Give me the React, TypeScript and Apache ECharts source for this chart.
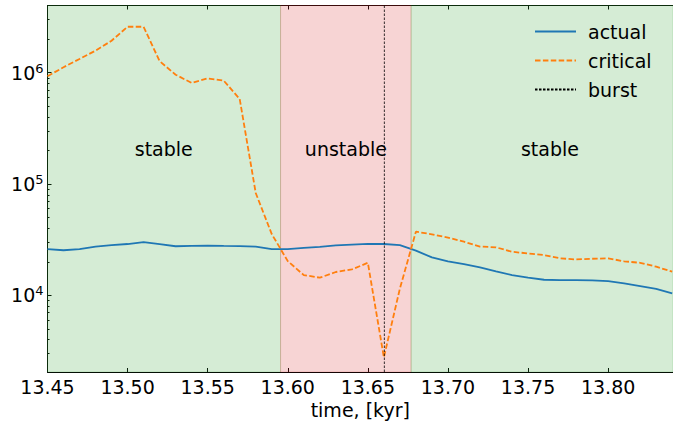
import React, { useEffect, useRef } from "react";
import * as echarts from "echarts";

const time = [
  13.45, 13.46, 13.47, 13.48, 13.49, 13.5, 13.51, 13.52, 13.53, 13.54,
  13.55, 13.56, 13.57, 13.58, 13.59, 13.6, 13.61, 13.62, 13.63, 13.64,
  13.65, 13.66, 13.67, 13.68, 13.69, 13.7, 13.71, 13.72, 13.73, 13.74,
  13.75, 13.76, 13.77, 13.78, 13.79, 13.8, 13.81, 13.82, 13.83, 13.84,
];

const actual = [
  2.6e4, 2.54e4, 2.6e4, 2.74e4, 2.82e4, 2.89e4, 3.0e4, 2.88e4, 2.76e4, 2.78e4,
  2.8e4, 2.78e4, 2.77e4, 2.74e4, 2.6e4, 2.6e4, 2.67e4, 2.73e4, 2.81e4, 2.86e4,
  2.9e4, 2.89e4, 2.82e4, 2.52e4, 2.19e4, 2.02e4, 1.91e4, 1.78e4, 1.64e4, 1.52e4,
  1.44e4, 1.38e4, 1.37e4, 1.37e4, 1.36e4, 1.34e4, 1.28e4, 1.21e4, 1.14e4, 1.04e4,
];

const critical = [
  9.3e5, 1.12e6, 1.33e6, 1.58e6, 1.94e6, 2.59e6, 2.59e6, 1.27e6, 9.6e5, 8.1e5,
  8.9e5, 8.5e5, 5.8e5, 8.3e4, 3.55e4, 2.03e4, 1.52e4, 1.44e4, 1.62e4, 1.71e4,
  1.96e4, 2.77e3, 1.15e4, 3.73e4, 3.53e4, 3.3e4, 3.03e4, 2.74e4, 2.7e4, 2.46e4,
  2.38e4, 2.3e4, 2.15e4, 2.1e4, 2.13e4, 2.15e4, 2.02e4, 1.96e4, 1.81e4, 1.63e4,
];

const burstTime = 13.6603;

const regionStarts = [13.45, 13.5955, 13.677];
const regionEnds = [13.5955, 13.677, 13.8405];
const regionLabels = ["stable", "unstable", "stable"];
const regionLabelTimes = [13.5226, 13.6363, 13.7637];
const regionLabelValue = 2.05e5;

const yMajorTicks = [1e4, 1e5, 1e6];
const yMinorTicks = [
  3000, 4000, 5000, 6000, 7000, 8000, 9000,
  2e4, 3e4, 4e4, 5e4, 6e4, 7e4, 8e4, 9e4,
  2e5, 3e5, 4e5, 5e5, 6e5, 7e5, 8e5, 9e5,
  2e6, 3e6, 4e6,
];

const xMin = 13.45;
const xMax = 13.8405;
const xInterval = 0.05;
const yMin = 2046;
const yMax = 4.02e6;

const FONT = "DejaVu Sans";
const FS = 19;
const regionColors: Record<string, string> = {
  stable: "rgba(44,160,44,0.2)",
  unstable: "rgba(214,39,40,0.2)",
};

export default function App() {
  const ref = useRef<HTMLDivElement>(null);

  useEffect(() => {
    if (!ref.current) return;
    const chart = echarts.init(ref.current, undefined, { renderer: "svg" });

    const axisLine = { show: true, lineStyle: { color: "#000", width: 1 } };

    const option: any = {
      animation: false,
      grid: { left: 47.5, right: -2, top: 5.5, bottom: 53 },
      legend: {
        orient: "vertical",
        left: 529,
        top: 17,
        itemWidth: 41,
        itemHeight: 12,
        itemGap: 10,
        itemStyle: { opacity: 0 },
        textStyle: { fontFamily: FONT, fontSize: FS, color: "#000", padding: [0, 0, 0, 7] },
        data: ["actual", "critical", "burst"],
      },
      xAxis: [
        {
          type: "value",
          position: "bottom",
          min: xMin,
          max: xMax,
          interval: xInterval,
          name: "time, [kyr]",
          nameLocation: "middle",
          nameGap: 28,
          nameTextStyle: { fontFamily: FONT, fontSize: FS, color: "#000" },
          axisLine,
          axisTick: { show: true, inside: true, length: 4, lineStyle: { color: "#000" } },
          axisLabel: {
            fontFamily: FONT,
            fontSize: FS,
            color: "#000",
            margin: 5,
            showMaxLabel: false,
            formatter: (v: number) => v.toFixed(2),
          },
          splitLine: { show: false },
        },
        {
          type: "value",
          position: "top",
          min: xMin,
          max: xMax,
          interval: xInterval,
          axisLine,
          axisTick: { show: true, inside: true, length: 4, lineStyle: { color: "#000" } },
          axisLabel: { show: false },
          splitLine: { show: false },
        },
      ],
      yAxis: [
        {
          type: "log",
          logBase: 10,
          min: yMin,
          max: yMax,
          position: "left",
          axisLine,
          axisTick: {
            show: true,
            inside: true,
            length: 4,
            customValues: yMajorTicks,
            lineStyle: { color: "#000" },
          },
          axisLabel: {
            customValues: yMajorTicks,
            fontFamily: FONT,
            fontSize: FS,
            color: "#000",
            margin: 4,
            formatter: (v: number) => "10{sup|" + Math.round(Math.log10(v)) + "}",
            rich: {
              sup: { fontFamily: FONT, fontSize: 13, color: "#000", padding: [0, 0, 9, 0] },
            },
          },
          splitLine: { show: false },
        },
        {
          type: "log",
          logBase: 10,
          min: yMin,
          max: yMax,
          position: "left",
          axisLine: { show: false },
          axisTick: {
            show: true,
            inside: true,
            length: 2,
            customValues: yMinorTicks,
            lineStyle: { color: "#000" },
          },
          axisLabel: { show: false },
          splitLine: { show: false },
        },
      ],
      series: [
        {
          name: "actual",
          type: "line",
          xAxisIndex: 0,
          yAxisIndex: 0,
          data: time.map((t, i) => [t, actual[i]]),
          symbol: "none",
          z: 3,
          lineStyle: { color: "#1f77b4", width: 1.8 },
          itemStyle: { color: "#1f77b4" },
          markArea: {
            silent: true,
            z: 1,
            data: regionStarts.map((s, i) => [
              {
                xAxis: s,
                itemStyle: {
                  color: regionColors[regionLabels[i]],
                  borderColor: regionColors[regionLabels[i]],
                  borderWidth: 1,
                },
              },
              { xAxis: regionEnds[i] },
            ]),
          },
          markPoint: {
            silent: true,
            symbol: "circle",
            symbolSize: 1,
            itemStyle: { color: "rgba(0,0,0,0)" },
            label: {
              show: true,
              position: "inside",
              formatter: "{b}",
              fontFamily: FONT,
              fontSize: FS,
              color: "#000",
            },
            data: regionLabels.map((name, i) => ({
              name,
              coord: [regionLabelTimes[i], regionLabelValue],
            })),
          },
        },
        {
          name: "critical",
          type: "line",
          xAxisIndex: 0,
          yAxisIndex: 0,
          data: time.map((t, i) => [t, critical[i]]),
          symbol: "none",
          z: 4,
          lineStyle: { color: "#ff7f0e", width: 1.8, type: [5.5, 2.4] },
          itemStyle: { color: "#ff7f0e" },
        },
        {
          name: "burst",
          type: "line",
          xAxisIndex: 0,
          yAxisIndex: 0,
          data: [
            [burstTime, yMin],
            [burstTime, yMax],
          ],
          symbol: "none",
          z: 5,
          lineStyle: { color: "#000", width: 0.8, type: [2.5, 1.5] },
          itemStyle: { color: "#000" },
        },
      ],
    };

    chart.setOption(option);
    return () => chart.dispose();
  }, []);

  return (
    <div
      ref={ref}
      style={{ position: "absolute", left: 0, top: 0, width: 673, height: 425 }}
    />
  );
}
